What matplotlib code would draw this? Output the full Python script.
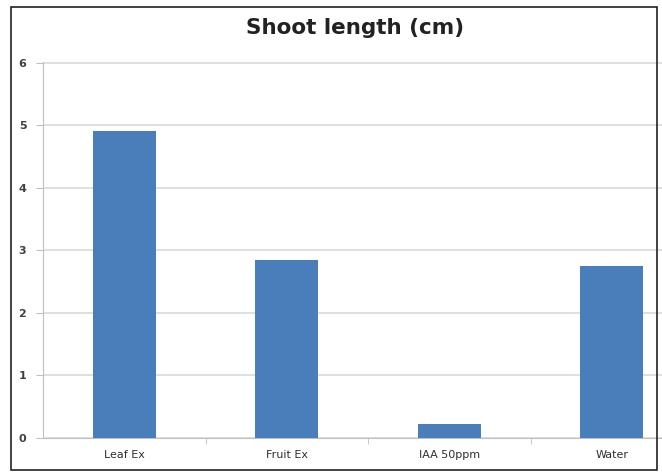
import matplotlib
matplotlib.use("Agg")
import matplotlib.pyplot as plt
import matplotlib.patches as patches
import numpy as np

categories = ["Leaf Ex", "Fruit Ex", "IAA 50ppm", "Water"]
shoot_length = [4.91, 2.85, 0.22, 2.74]
yticks = [0, 1, 2, 3, 4, 5, 6]

fig = plt.figure(figsize=(6.62, 4.72), dpi=100)
# plot area runs past the right edge like the cropped original
ax = fig.add_axes([43 / 662, 34.5 / 472, 650 / 662, 375.5 / 472])

x = np.arange(len(categories))
ax.bar(x, shoot_length, width=0.39, color="#4a7ebb", zorder=3)

ax.set_xlim(-0.5, 3.5)
ax.set_ylim(0, 6.016)
ax.set_yticks(yticks)
ax.set_yticklabels([str(t) for t in yticks], fontsize=8, fontweight="bold", color="#404040")
ax.set_xticks(x)
ax.set_xticklabels(categories, fontsize=8, color="#303030")
ax.set_xticks([0.5, 1.5, 2.5], minor=True)
ax.tick_params(axis="x", which="major", length=0, pad=9)
ax.tick_params(axis="x", which="minor", length=4, color="#c0c0c0")
ax.tick_params(axis="y", length=5, color="#c0c0c0", pad=7)
ax.yaxis.grid(True, color="#d9d9d9", linewidth=1.2, zorder=0)

for side in ["top", "right"]:
    ax.spines[side].set_visible(False)
ax.spines["left"].set_color("#c0c0c0")
ax.spines["bottom"].set_color("#c0c0c0")

fig.text(355 / 662, 1 - 28 / 472, "Shoot length (cm)", ha="center", va="center",
         fontsize=15.5, fontweight="bold", color="#222222")

# black frame round the whole chart
frame = patches.Rectangle((11 / 662, 2 / 472), 646 / 662, 463 / 472, transform=fig.transFigure,
                          fill=False, edgecolor="#222222", linewidth=1.2)
fig.patches.append(frame)

fig.savefig("out.png", dpi=100)
